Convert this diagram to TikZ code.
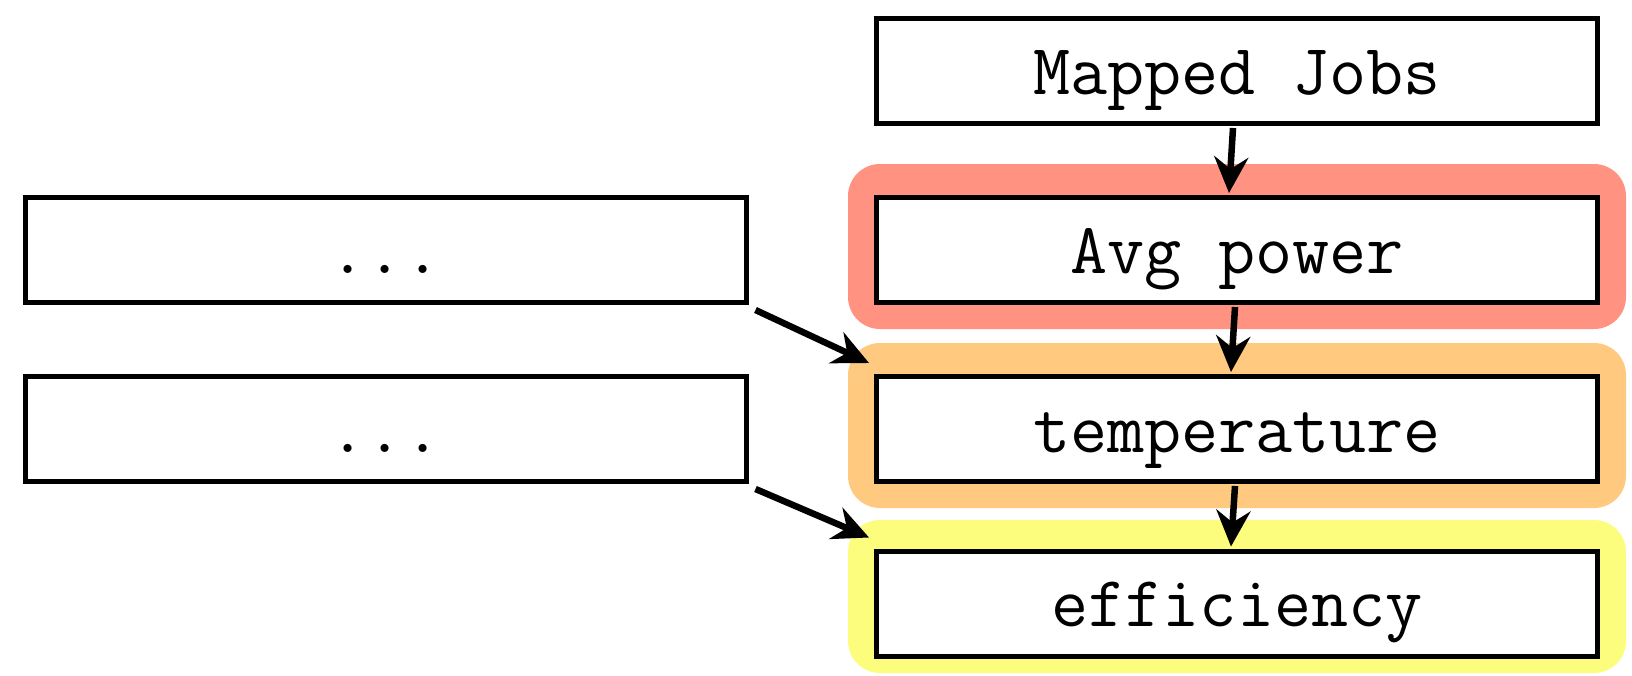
\documentclass[tikz,border=0pt]{standalone}
\usepackage{fontspec}
\usetikzlibrary{arrows.meta}
\definecolor{bgred}{RGB}{255,146,128}
\definecolor{bgorange}{RGB}{255,201,128}
\definecolor{bgyellow}{RGB}{253,253,125}
\begin{document}
\begin{tikzpicture}[x=1pt,y=1pt,
  box/.style={draw, line width=5pt, fill=white, minimum width=721pt, minimum height=105pt, inner sep=0pt, text height=60pt, text depth=14pt, font=\ttfamily\fontsize{72}{72}\selectfont},
  bgpanel/.style={rounded corners=32pt},
  arr/.style={line width=6.5pt, -{Stealth[length=36pt,width=34pt,inset=12pt]}}]
\useasboundingbox (0,0) rectangle (1632,-675);
% highlight panels
\fill[bgred, bgpanel] (848,-164) rectangle (1626,-329);
\fill[bgorange, bgpanel] (848,-343) rectangle (1626,-508);
\fill[bgyellow, bgpanel] (848,-520) rectangle (1626,-673);
% nodes
\node[box] (mj) at (1237,-71) {Mapped Jobs};
\node[box] (ap) at (1237,-250) {Avg power};
\node[box] (tp) at (1237,-429) {temperature};
\node[box] (ef) at (1237,-603.5) {efficiency};
\node[box] (l1) at (385.5,-250) {...};
\node[box] (l2) at (385.5,-429) {...};
% connectors
\draw[arr] ([xshift=-4pt,yshift=-2pt]mj.south) -- ([xshift=-8pt,yshift=2pt]ap.north);
\draw[arr] ([xshift=-2pt,yshift=-2pt]ap.south) -- ([xshift=-6pt,yshift=2pt]tp.north);
\draw[arr] ([xshift=-2pt,yshift=-2pt]tp.south) -- ([xshift=-6pt,yshift=2pt]ef.north);
\draw[arr] ([xshift=7pt,yshift=-5pt]l1.south east) -- ([xshift=-5pt,yshift=11pt]tp.north west);
\draw[arr] ([xshift=7pt,yshift=-5pt]l2.south east) -- ([xshift=-5pt,yshift=11pt]ef.north west);
\end{tikzpicture}
\end{document}
